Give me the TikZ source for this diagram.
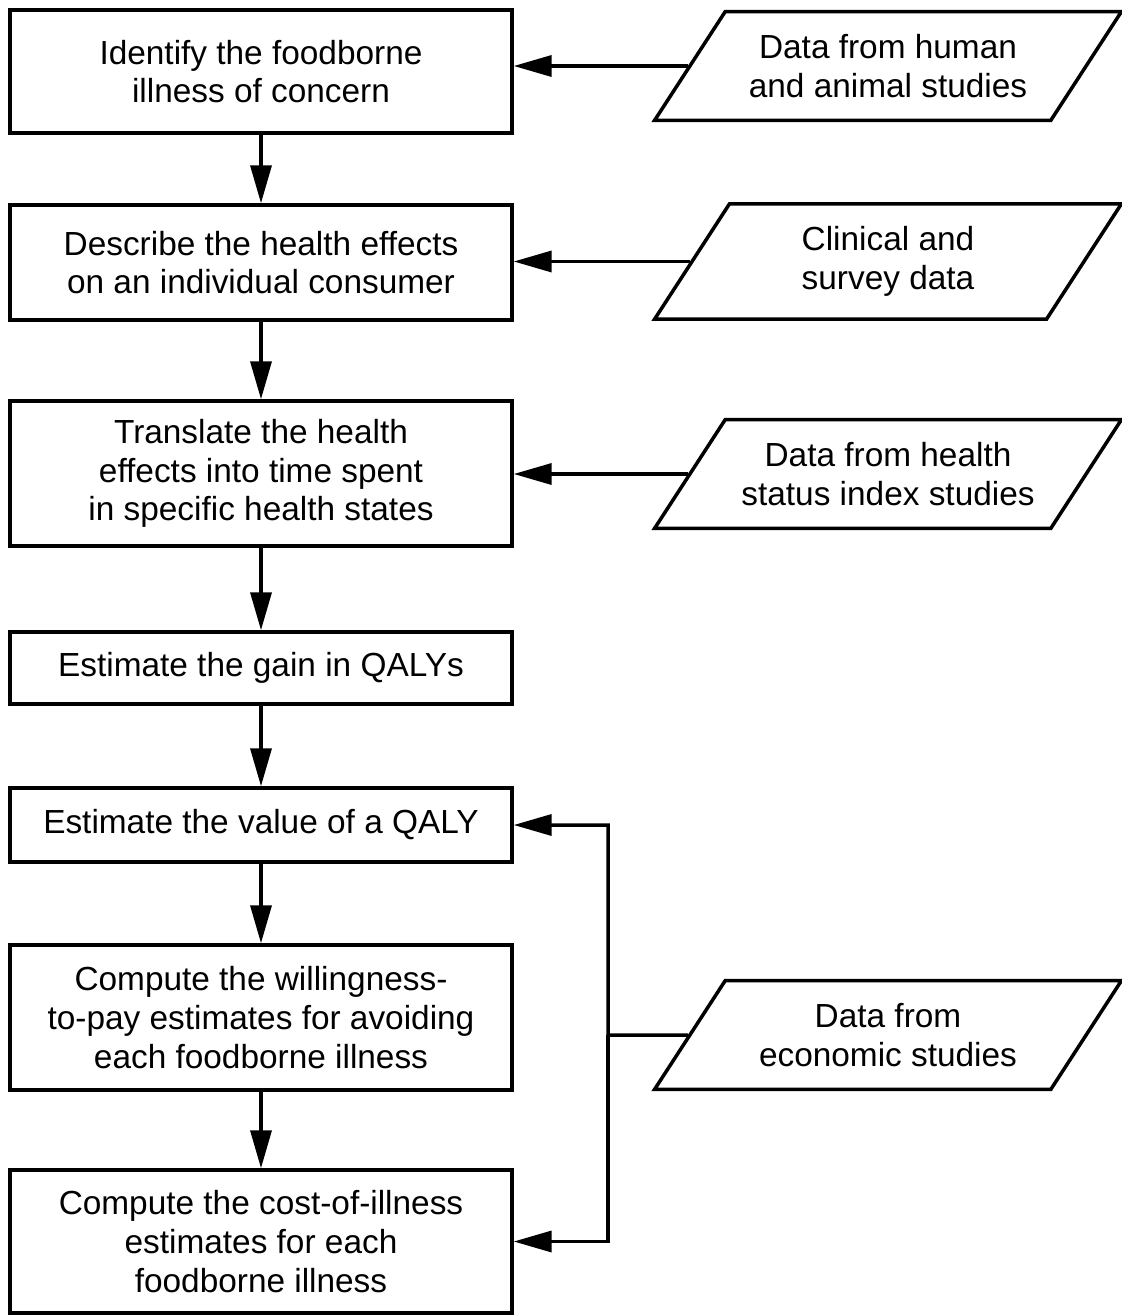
\documentclass[tikz,border=0pt]{standalone}
\usepackage{fontspec}
\setmainfont{Liberation Sans}
\usetikzlibrary{arrows.meta,shapes.geometric}
\tikzset{
	stepbox/.style={draw, line width=2pt, minimum width=10.04cm, inner sep=0pt, align=center, font=\fontsize{19}{22}\selectfont},
	databox/.style={draw, trapezium, trapezium left angle=57, trapezium right angle=123, trapezium stretches body=true, line width=2pt, minimum width=9.34cm, inner xsep=0pt, inner ysep=13pt, align=center, font=\fontsize{19}{22}\selectfont},
	flow/.style={line width=2pt, -{Triangle[length=0.76cm, width=0.42cm]}}
}

\begin{document}
\begin{tikzpicture}[x=0.02cm, y=-0.02cm]
		%%%%% START %%%%%
		\useasboundingbox (0, 0) rectangle (1122, 1315);
		
		\node[stepbox, minimum height=2.46cm] (identify) at (261, 71.5) {Identify the foodborne\\illness of concern};
		\node[stepbox, minimum height=2.3cm] (describe) at (261, 262.5) {Describe the health effects\\on an individual consumer};
		\node[stepbox, minimum height=2.9cm] (translate) at (261, 473.5) {Translate the health\\effects into time spent\\in specific health states};
		\node[stepbox, minimum height=1.44cm] (gain) at (261, 668) {Estimate the gain in QALYs};
		\node[stepbox, minimum height=1.48cm] (value) at (261, 825) {Estimate the value of a QALY};
		\node[stepbox, minimum height=2.9cm] (wtp) at (261, 1017.5) {Compute the willingness-\\to-pay estimates for avoiding\\each foodborne illness};
		\node[stepbox, minimum height=2.86cm] (coi) at (261, 1241.5) {Compute the cost-of-illness\\estimates for each\\foodborne illness};
		
		\node[databox] (studies) at (888, 66) {Data from human\\and animal studies};
		\node[databox] (clinical) at (888, 261.5) {Clinical and\\survey data};
		\node[databox] (index) at (888, 474) {Data from health\\status index studies};
		\node[databox] (economic) at (888, 1035) {Data from\\economic studies};
		
		\draw[flow] (identify) -- (describe);
		\draw[flow] (describe) -- (translate);
		\draw[flow] (translate) -- (gain);
		\draw[flow] (gain) -- (value);
		\draw[flow] (value) -- (wtp);
		\draw[flow] (wtp) -- (coi);
		
		\draw[flow] (studies.west) -- (studies.west -| identify.east);
		\draw[flow] (clinical.west) -- (clinical.west -| describe.east);
		\draw[flow] (index.west) -- (index.west -| translate.east);
		
		\coordinate (bus) at (608, 1035);
		\draw[flow] (economic.west) -- (bus) |- (value.east);
		\draw[flow] (bus) |- (coi.east);
		
		%%%%% END %%%%%
	\end{tikzpicture}
\end{document}
